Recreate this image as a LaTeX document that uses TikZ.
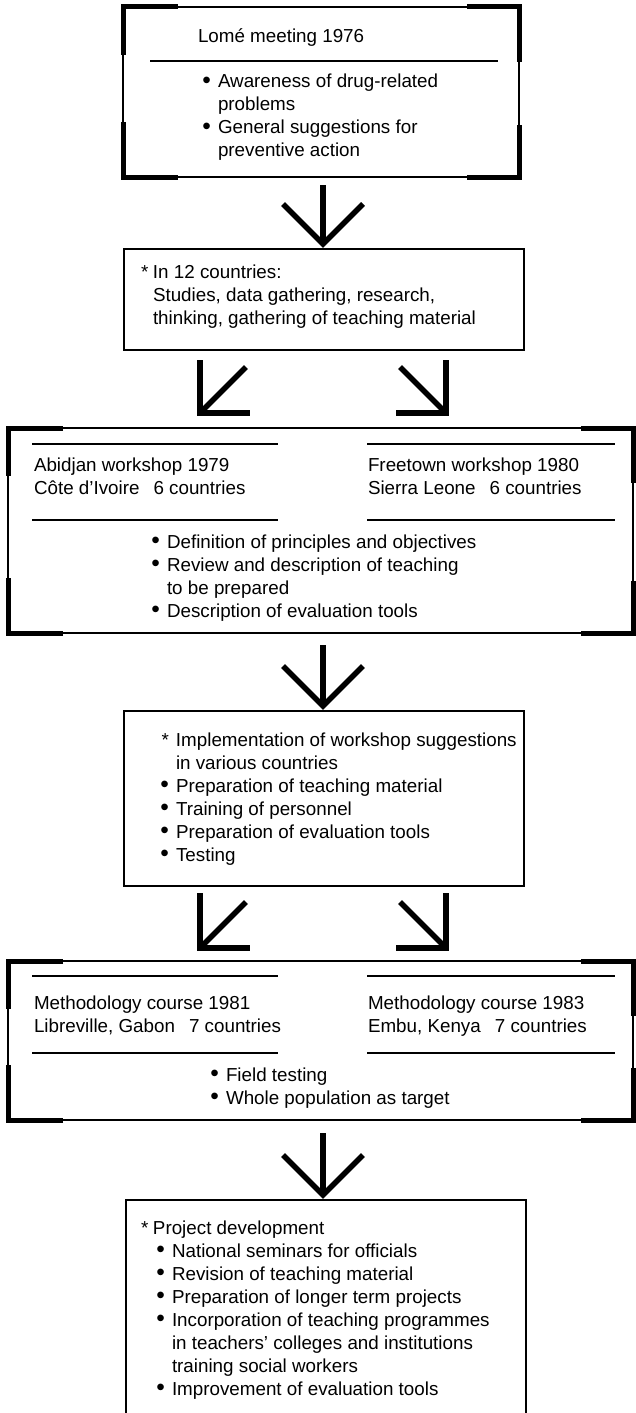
\documentclass[tikz,border=0pt]{standalone}
\usepackage{fontspec}
\setmainfont{Liberation Sans}
\newcommand\bul{\raisebox{-0.5pt}{\scalebox{1.3}{•}}}
\newcommand\itemx[3]{\par\hangindent=#1\hangafter=1\noindent\hbox to #1{\hfil#2\hskip7pt}#3}
\newcommand\tblock[2]{\vtop{\hsize=#1\parindent=0pt\baselineskip=23pt\lineskiplimit=-20pt #2}}
\begin{document}
\begin{tikzpicture}[x=1pt,y=-1pt,
  thin/.style={line width=1.3pt},
  thickc/.style={line width=5pt,line join=miter},
  arr/.style={line width=5.5pt,line join=miter},
  boxn/.style={draw,thin,outer sep=0pt,inner sep=0pt,anchor=north west},
  txt/.style={anchor=base west,inner sep=0pt,outer sep=0pt,font=\fontsize{18.8}{23}\selectfont}]
\useasboundingbox (0,0) rectangle (636,1413);
\fill[white] (0,0) rectangle (636,1413);
% boxes
\node[boxn,minimum width=396pt,minimum height=170pt] (box1) at (123,7) {};
\node[boxn,minimum width=400pt,minimum height=101pt] (box2) at (124,249) {};
\node[boxn,minimum width=625pt,minimum height=205pt] (box3) at (8,428) {};
\node[boxn,minimum width=400pt,minimum height=175pt] (box4) at (124,711) {};
\node[boxn,minimum width=625pt,minimum height=159pt] (box5) at (8,961) {};
\coordinate (b6l) at (126,1413);
\coordinate (b6tl) at (126,1200);
\coordinate (b6tr) at (526,1200);
\coordinate (b6r) at (526,1413);
\draw[thin] (b6l) -- (b6tl) -- (b6tr) -- (b6r);
% thick corner brackets
\foreach \b in {box1,box3,box5}{
  \draw[thickc] ([xshift=55pt]\b.north west) -- (\b.north west) -- ([yshift=-48pt]\b.north west);
  \draw[thickc] ([xshift=-52pt]\b.north east) -- (\b.north east) -- ([yshift=-55pt]\b.north east);
  \draw[thickc] ([xshift=55pt]\b.south west) -- (\b.south west) -- ([yshift=55pt]\b.south west);
  \draw[thickc] ([xshift=-52pt]\b.south east) -- (\b.south east) -- ([yshift=52pt]\b.south east);
}
% box 1 text
\node[txt] (t1) at (198,43) {Lomé meeting 1976};
\draw[thin] (150,61) -- (498,61);
\node[txt] (t1b) at (200,88) {\tblock{300pt}{\itemx{18pt}{\bul}{Awareness of drug-related\newline problems}\itemx{18pt}{\bul}{General suggestions for\newline preventive action}}};
% box 2 text
\node[txt] (t2) at (141,278) {\tblock{380pt}{\itemx{12pt}{*}{In 12 countries:\newline Studies, data gathering, research,\newline thinking, gathering of teaching material}}};
% box 3 text
\draw[thin] (32,444) -- (278,444);
\draw[thin] (367,444) -- (615,444);
\draw[thin] (32,520) -- (278,520);
\draw[thin] (367,520) -- (615,520);
\node[txt] (t3a) at (34,471) {\tblock{250pt}{Abidjan workshop 1979\par Côte d'Ivoire\hspace{14pt}6 countries}};
\node[txt] (t3b) at (368,471) {\tblock{250pt}{Freetown workshop 1980\par Sierra Leone\hspace{14pt}6 countries}};
\node[txt] (t3c) at (149,548) {\tblock{400pt}{\itemx{18pt}{\bul}{Definition of principles and objectives}\itemx{18pt}{\bul}{Review and description of teaching\newline to be prepared}\itemx{18pt}{\bul}{Description of evaluation tools}}};
% box 4 text
\node[txt] (t4) at (158,746) {\tblock{380pt}{\itemx{18pt}{*}{Implementation of workshop suggestions\newline in various countries}\itemx{18pt}{\bul}{Preparation of teaching material}\itemx{18pt}{\bul}{Training of personnel}\itemx{18pt}{\bul}{Preparation of evaluation tools}\itemx{18pt}{\bul}{Testing}}};
% box 5 text
\draw[thin] (32,976) -- (278,976);
\draw[thin] (367,976) -- (615,976);
\draw[thin] (32,1053) -- (278,1053);
\draw[thin] (367,1053) -- (615,1053);
\node[txt] (t5a) at (34,1009) {\tblock{250pt}{Methodology course 1981\par Libreville, Gabon\hspace{14pt}7 countries}};
\node[txt] (t5b) at (368,1009) {\tblock{250pt}{Methodology course 1983\par Embu, Kenya\hspace{14pt}7 countries}};
\node[txt] (t5c) at (208,1081) {\tblock{300pt}{\itemx{18pt}{\bul}{Field testing}\itemx{18pt}{\bul}{Whole population as target}}};
% box 6 text
\node[txt] (t6) at (141,1234) {\tblock{380pt}{\itemx{12pt}{*}{Project development}\par\leftskip=13pt
  \itemx{18pt}{\bul}{National seminars for officials}\itemx{18pt}{\bul}{Revision of teaching material}\itemx{18pt}{\bul}{Preparation of longer term projects}\itemx{18pt}{\bul}{Incorporation of teaching programmes\newline in teachers' colleges and institutions\newline training social workers}\itemx{18pt}{\bul}{Improvement of evaluation tools}}};
% arrows down
\coordinate (a1t) at (323,185); \coordinate (a1h) at (323,244);
\draw[arr] (a1t) -- (a1h); \draw[arr] ([xshift=-40pt,yshift=40pt]a1h) -- (a1h) -- ([xshift=40pt,yshift=40pt]a1h);
\coordinate (a3t) at (323,645); \coordinate (a3h) at (323,706);
\draw[arr] (a3t) -- (a3h); \draw[arr] ([xshift=-40pt,yshift=40pt]a3h) -- (a3h) -- ([xshift=40pt,yshift=40pt]a3h);
\coordinate (a5t) at (323,1133); \coordinate (a5h) at (323,1195);
\draw[arr] (a5t) -- (a5h); \draw[arr] ([xshift=-40pt,yshift=40pt]a5h) -- (a5h) -- ([xshift=40pt,yshift=40pt]a5h);
% diagonal arrows
\foreach \yt/\yb [count=\i] in {360/413,893/948}{
  \coordinate (dl\i) at (200,\yb);
  \coordinate (dr\i) at (446,\yb);
  \draw[arr] (200,\yt) -- (dl\i) -- (250,\yb);
  \draw[arr] (dl\i) -- ([xshift=46pt,yshift=46pt]dl\i);
  \draw[arr] (446,\yt) -- (dr\i) -- (396,\yb);
  \draw[arr] (dr\i) -- ([xshift=-46pt,yshift=46pt]dr\i);
}
\end{tikzpicture}
\end{document}
